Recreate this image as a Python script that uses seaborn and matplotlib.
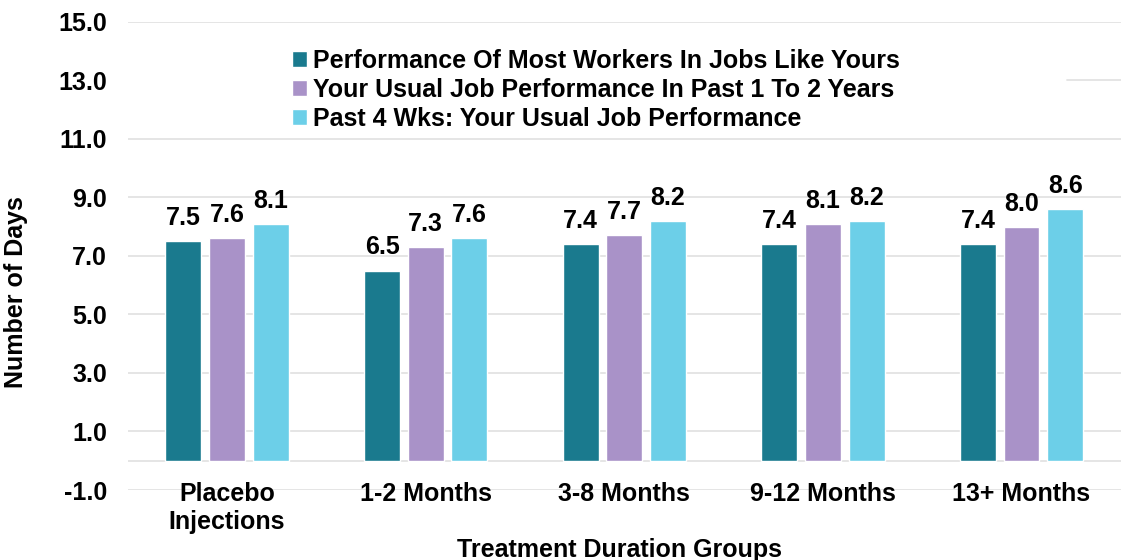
import numpy as np
import pandas as pd
import seaborn as sns
import matplotlib.pyplot as plt

groups = ["Placebo\nInjections", "1-2 Months", "3-8 Months", "9-12 Months", "13+ Months"]
series = ["Performance Of Most Workers In Jobs Like Yours",
          "Your Usual Job Performance In Past 1 To 2 Years",
          "Past 4 Wks: Your Usual Job Performance"]
most_workers = [7.5, 6.5, 7.4, 7.4, 7.4]
past_1_2_years = [7.6, 7.3, 7.7, 8.1, 8.0]
past_4_wks = [8.1, 7.6, 8.2, 8.2, 8.6]
colors = ["#1a7a8e", "#a992c8", "#6ccfe8"]
yticks = np.arange(-1, 16, 2)

df = pd.DataFrame({
    "group": groups * 3,
    "series": [series[0]] * 5 + [series[1]] * 5 + [series[2]] * 5,
    "days": most_workers + past_1_2_years + past_4_wks,
})

sns.set_theme(style="white")
plt.rcParams['font.family'] = ['Liberation Sans', 'DejaVu Sans']
plt.rcParams['font.weight'] = 'bold'
for k in ["text.color", "axes.labelcolor", "xtick.color", "ytick.color"]:
    plt.rcParams[k] = "black"

fig = plt.figure(figsize=(11.31, 5.6), dpi=100)
ax = fig.add_axes([0.113, 0.125, 0.878, 0.836])

# gridlines behind the bars (the 13 line is hidden behind the legend box in the original)
for y in yticks:
    if y == 13:
        ax.axhline(y, xmin=0.946, color="#e3e3e3", lw=1.3, zorder=0)
    else:
        ax.axhline(y, color="#e3e3e3", lw=1.3, zorder=0)
ax.axhline(0, color="#e3e3e3", lw=1.3, zorder=0)

sns.barplot(data=df, x="group", y="days", hue="series", palette=colors,
            width=0.66, gap=0.18, ax=ax, zorder=2, saturation=1)

for cont in ax.containers:
    ax.bar_label(cont, fmt="%.1f", padding=8, fontsize=18, fontweight="bold")

ax.set_ylim(-1, 15)
ax.set_yticks(yticks)
ax.set_yticklabels([f"{v:.1f}" for v in yticks])
ax.set_xlim(-0.5, 4.5)
for s in ax.spines.values():
    s.set_visible(False)
ax.tick_params(axis="both", length=0, labelsize=18)
ax.tick_params(axis="y", pad=15)
ax.tick_params(axis="x", pad=-5.5)
for lab in ax.get_xticklabels() + ax.get_yticklabels():
    lab.set_fontweight("bold")
ax.set_ylabel("Number of Days", fontsize=18, fontweight="bold")
ax.yaxis.set_label_coords(-0.1007, 0.423)
ax.set_xlabel("Treatment Duration Groups", fontsize=18, fontweight="bold")
ax.xaxis.set_label_coords(0.495, -0.1026)

leg = ax.legend(loc="upper left", bbox_to_anchor=(0.155, 0.963), frameon=False,
                fontsize=18, handlelength=0.6, handleheight=0.6, handletextpad=0.25,
                labelspacing=0.2, borderaxespad=0)

fig.savefig("out.png", dpi=100)
